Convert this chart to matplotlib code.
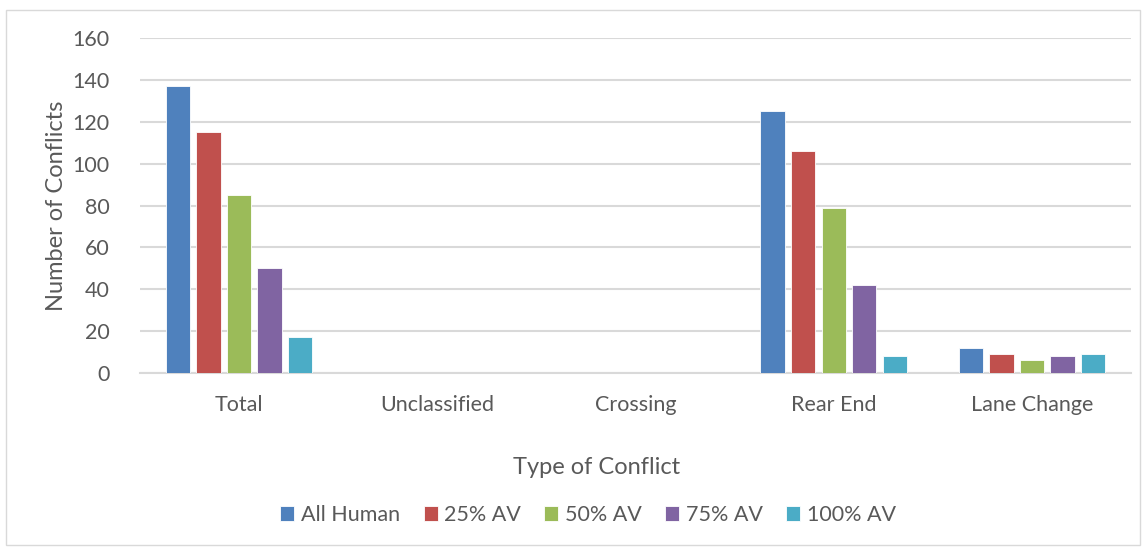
import numpy as np
import matplotlib.pyplot as plt
from matplotlib.patches import Rectangle

# Conflict counts per scenario
categories = ["Total", "Unclassified", "Crossing", "Rear End", "Lane Change"]
series_names = ["All Human", "25% AV", "50% AV", "75% AV", "100% AV"]
all_human = [137, 0, 0, 125, 12]
av_25 = [115, 0, 0, 106, 9]
av_50 = [85, 0, 0, 79, 6]
av_75 = [50, 0, 0, 42, 8]
av_100 = [17, 0, 0, 8, 9]
colors = ["#4F81BD", "#C0504D", "#9BBB59", "#8064A2", "#4BACC6"]

plt.rcParams['font.family'] = ['Lato', 'DejaVu Sans']
text_color = "#595959"

fig = plt.figure(figsize=(11.47, 5.47), dpi=100)
ax = fig.add_axes([140 / 1147, 1 - 373 / 547, (1131 - 140) / 1147, (373 - 38) / 547])

x = np.arange(len(categories))
pitch = 0.154
width = 0.123
for i, (vals, name) in enumerate(zip([all_human, av_25, av_50, av_75, av_100], series_names)):
    ax.bar(x + (i - 2) * pitch, vals, width, color=colors[i], label=name,
           edgecolor="white", linewidth=0.6, zorder=3)

ax.set_xlim(-0.5, len(categories) - 0.5)
ax.set_ylim(0, 160)
ax.set_yticks(range(0, 161, 20))
ax.set_xticks(x)
ax.set_xticklabels(categories)
ax.yaxis.grid(True, color="#d9d9d9", linewidth=1.5, zorder=0)
ax.tick_params(axis="both", length=0, colors=text_color, labelsize=15.5)
ax.tick_params(axis="x", pad=16)
ax.tick_params(axis="y", pad=22)
for side in ["top", "right", "left"]:
    ax.spines[side].set_visible(False)
ax.spines["bottom"].set_color("#d9d9d9")
ax.spines["bottom"].set_linewidth(1.5)

ax.set_ylabel("Number of Conflicts", fontsize=17, color=text_color, labelpad=4)
fig.text(597 / 1147, 1 - 468 / 547, "Type of Conflict", fontsize=17,
         color=text_color, ha="center", va="center")

leg = fig.legend(loc="center", bbox_to_anchor=(588 / 1147, 1 - 515 / 547), ncol=5,
                 frameon=False, fontsize=15.5, handlelength=0.65, handleheight=0.65,
                 handletextpad=0.3, columnspacing=1.1)
for t in leg.get_texts():
    t.set_color(text_color)

# Outer chart border
fig.patches.append(Rectangle((6 / 1147, 2 / 547), 1134 / 1147, 535 / 547,
                             transform=fig.transFigure, fill=False,
                             edgecolor="#d9d9d9", linewidth=1))

fig.savefig("out.png", dpi=100, facecolor="white")
